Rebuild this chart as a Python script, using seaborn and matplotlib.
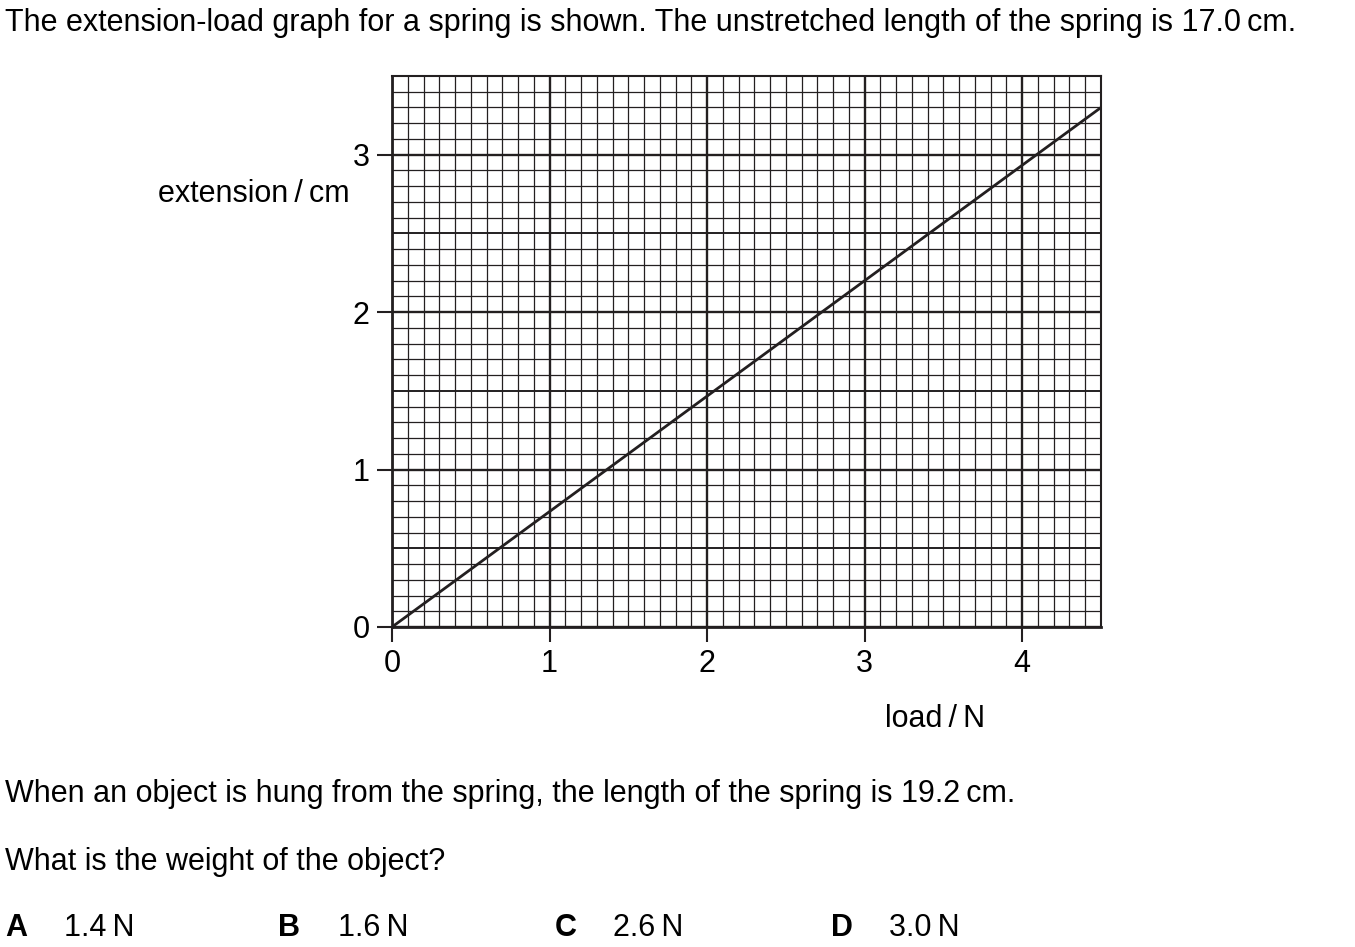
import numpy as np
import pandas as pd
import matplotlib
matplotlib.use("Agg")
import matplotlib.pyplot as plt
import seaborn as sns

# data
load = [0.0, 4.5]
extension = [0.0, 3.3]
x_ticks = [0, 1, 2, 3, 4]
y_ticks = [0, 1, 2, 3]

df = pd.DataFrame({"load": load, "extension": extension})

sns.set_style("white")
plt.rcParams["font.family"] = ["Liberation Sans", "DejaVu Sans"]
plt.rcParams["text.color"] = "black"
ink = "#231f20"
fs = 22

fig = plt.figure(figsize=(13.55, 9.47), dpi=100)
ax = fig.add_axes([392 / 1355, 1 - 627 / 947, 709 / 1355, 551 / 947])

# graph paper
for v in np.arange(0, 4.51, 0.1):
    major = abs(v - round(v)) < 1e-6
    ax.axvline(v, color=ink, lw=1.7 if major else 0.9, zorder=1)
for v in np.arange(0, 3.51, 0.1):
    major = abs(v - round(v)) < 1e-6
    half = abs(v * 2 - round(v * 2)) < 1e-6
    ax.axhline(v, color=ink, lw=1.7 if major else (1.4 if half else 0.9), zorder=1)

sns.lineplot(data=df, x="load", y="extension", ax=ax, color=ink, lw=2, zorder=3)

ax.set_xlim(0, 4.5)
ax.set_ylim(0, 3.5)
ax.set_xticks(x_ticks)
ax.set_yticks(y_ticks)
ax.tick_params(direction="out", length=11, width=1.5, color=ink, labelcolor="black",
               labelsize=fs, pad=5, left=True, bottom=True)
for s in ["left", "bottom"]:
    ax.spines[s].set_linewidth(2.0)
    ax.spines[s].set_color(ink)
for s in ["top", "right"]:
    ax.spines[s].set_linewidth(1.5)
    ax.spines[s].set_color(ink)
ax.set_xlabel("")
ax.set_ylabel("")

fig.text(350 / 1355, 1 - 194 / 947, "extension\u2009/\u2009cm", ha="right", va="center", fontsize=fs)
fig.text(935 / 1355, 1 - 719 / 947, "load\u2009/\u2009N", ha="center", va="center", fontsize=fs)

fig.text(5 / 1355, 1 - 23 / 947,
         "The extension-load graph for a spring is shown. The unstretched length of the spring is 17.0\u2009cm.",
         ha="left", va="center", fontsize=fs)
fig.text(5 / 1355, 1 - 794 / 947,
         "When an object is hung from the spring, the length of the spring is 19.2\u2009cm.",
         ha="left", va="center", fontsize=fs)
fig.text(5 / 1355, 1 - 862 / 947, "What is the weight of the object?", ha="left", va="center", fontsize=fs)

letters = ["A", "B", "C", "D"]
answers = ["1.4\u2009N", "1.6\u2009N", "2.6\u2009N", "3.0\u2009N"]
letter_x = [5, 278, 555, 831]
answer_x = [64, 338, 613, 889]
for lx, l, axx, a in zip(letter_x, letters, answer_x, answers):
    fig.text(lx / 1355, 1 - 928 / 947, l, ha="left", va="center", fontsize=fs, fontweight="bold")
    fig.text(axx / 1355, 1 - 928 / 947, a, ha="left", va="center", fontsize=fs)

fig.savefig("out.png", dpi=100, facecolor="white")
